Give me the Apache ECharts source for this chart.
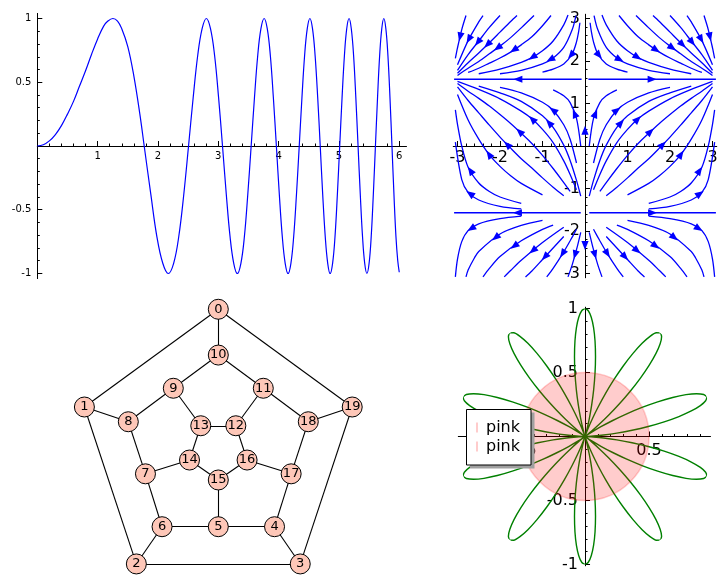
<!DOCTYPE html>
<html><head><meta charset="utf-8">
<script src="https://cdn.jsdelivr.net/npm/echarts@6/dist/echarts.min.js"></script>
<style>html,body{margin:0;padding:0;background:#fff}#c{width:727px;height:584px}</style>
</head><body><div id="c"></div>
<script>
// ---------- Panel 1: sin(x^2) ----------
var sinCurve = [[0,0],[0.1,0.01],[0.2,0.04],[0.3,0.09],[0.4,0.16],[0.5,0.25],[0.6,0.35],[0.7,0.47],[0.8,0.59],[0.9,0.72],[1.0,0.84],[1.1,0.94],[1.17,0.98],[1.253,1],[1.33,0.98],[1.4,0.92],[1.5,0.78],[1.6,0.55],[1.7,0.25],[1.772,0],[1.882,-0.38],[1.982,-0.71],[2.08,-0.92],[2.171,-1],[2.26,-0.92],[2.345,-0.71],[2.428,-0.38],[2.507,0],[2.584,0.38],[2.659,0.71],[2.732,0.92],[2.802,1],[2.871,0.92],[2.939,0.71],[3.005,0.38],[3.07,0],[3.133,-0.38],[3.195,-0.71],[3.256,-0.92],[3.316,-1],[3.375,-0.92],[3.433,-0.71],[3.489,-0.38],[3.545,0],[3.6,0.38],[3.654,0.71],[3.707,0.92],[3.76,1],[3.812,0.92],[3.863,0.71],[3.913,0.38],[3.963,0],[4.012,-0.38],[4.061,-0.71],[4.109,-0.92],[4.157,-1],[4.204,-0.92],[4.25,-0.71],[4.296,-0.38],[4.342,0],[4.387,0.38],[4.431,0.71],[4.475,0.92],[4.519,1],[4.562,0.92],[4.605,0.71],[4.648,0.38],[4.69,0],[4.731,-0.38],[4.773,-0.71],[4.814,-0.92],[4.854,-1],[4.895,-0.92],[4.935,-0.71],[4.974,-0.38],[5.013,0],[5.052,0.38],[5.091,0.71],[5.129,0.92],[5.168,1],[5.205,0.92],[5.243,0.71],[5.28,0.38],[5.317,0],[5.354,-0.38],[5.391,-0.71],[5.427,-0.92],[5.464,-1],[5.5,-0.92],[5.535,-0.71],[5.57,-0.38],[5.605,0],[5.64,0.38],[5.675,0.71],[5.71,0.92],[5.744,1],[5.778,0.92],[5.812,0.71],[5.846,0.38],[5.879,0],[5.912,-0.38],[5.945,-0.71],[5.975,-0.9],[6,-0.99]];
var p1XLabels = [1,2,3,4,5,6];
var p1YLabels = [-1,-0.5,0.5,1];
var p1XMinor = [0.2,0.4,0.6,0.8,1,1.2,1.4,1.6,1.8,2,2.2,2.4,2.6,2.8,3,3.2,3.4,3.6,3.8,4,4.2,4.4,4.6,4.8,5,5.2,5.4,5.6,5.8,6];
var p1YMinor = [-1,-0.9,-0.8,-0.7,-0.6,-0.5,-0.4,-0.3,-0.2,-0.1,0.1,0.2,0.3,0.4,0.5,0.6,0.7,0.8,0.9,1];

// ---------- Panel 2: streamlines of (sin x, cos y) ----------
var streamRight = [
 [[0.12,2.90],[0.15,2.69],[0.2,2.45],[0.3,2.17],[0.5,1.93],[0.75,1.81],[1.0,1.74]],
 [[0.213,3.07],[0.3,2.74],[0.5,2.32],[0.75,2.07],[1.0,1.93],[1.5,1.78],[2.0,1.70]],
 [[0.4,3.08],[0.5,2.85],[0.75,2.47],[1.0,2.24],[1.25,2.08],[1.5,1.97],[2.0,1.81],[2.5,1.70]],
 [[0.8,3.07],[1.0,2.83],[1.25,2.57],[1.5,2.38],[1.75,2.21],[2.0,2.07],[2.25,1.95],[2.5,1.83],[2.75,1.73]],
 [[1.2,3.07],[1.5,2.78],[1.75,2.55],[2.0,2.35],[2.25,2.17],[2.5,1.99],[2.75,1.83],[3.0,1.66]],
 [[1.6,3.07],[1.75,2.93],[2.0,2.68],[2.25,2.43],[2.5,2.19],[2.75,1.96],[3.0,1.71]],
 [[2.0,3.07],[2.25,2.79],[2.5,2.47],[2.75,2.15],[3.0,1.78]],
 [[2.4,3.07],[2.5,2.92],[2.75,2.48],[3.0,1.91]],
 [[2.8,3.07],[2.9,2.74],[3.0,2.31],[3.05,2.06]],
 [[0.08,1.571],[3.08,1.571]],
 [[0.1,0],[0.2,0.65],[0.35,1.02],[0.5,1.18],[0.75,1.32]],
 [[0.2,-0.40],[0.35,0.16],[0.5,0.50],[0.75,0.84],[1.0,1.03],[1.5,1.25],[2.0,1.38]],
 [[0.1,-1.18],[0.2,-0.81],[0.35,-0.34],[0.5,0.02],[0.75,0.44],[1.0,0.71],[1.5,1.05],[2.0,1.25],[2.5,1.41]],
 [[0.2,-1.03],[0.35,-0.67],[0.5,-0.35],[0.75,0.08],[1.0,0.39],[1.25,0.64],[1.5,0.82],[2.0,1.11],[2.5,1.33],[3.0,1.52]],
 [[0.35,-1.07],[0.5,-0.86],[0.75,-0.53],[1.0,-0.22],[1.25,0.06],[1.5,0.30],[1.75,0.53],[2.0,0.74],[2.25,0.94],[2.5,1.12],[2.75,1.29],[3.0,1.47]],
 [[0.5,-1.17],[0.75,-0.97],[1.0,-0.75],[1.25,-0.52],[1.5,-0.30],[1.75,-0.05],[2.0,0.21],[2.25,0.49],[2.5,0.78],[2.75,1.07],[3.0,1.39]],
 [[1.0,-1.15],[1.5,-0.88],[1.75,-0.70],[2.0,-0.48],[2.25,-0.21],[2.5,0.16],[2.75,0.61],[3.0,1.21]],
 [[1.5,-1.35],[2.0,-1.20],[2.25,-1.07],[2.5,-0.87],[2.75,-0.50],[2.9,0.0],[3.0,0.51],[3.05,0.85]],
 [[1.5,-1.48],[2.0,-1.42],[2.5,-1.27],[2.75,-1.09],[2.9,-0.79],[3.05,0.09]],
 [[0.1,-1.571],[3.08,-1.571]],
 [[0.1,-2.03],[0.2,-2.44],[0.3,-2.79],[0.4,-3.08]],
 [[0.2,-1.96],[0.35,-2.23],[0.5,-2.49],[0.75,-2.88],[0.9,-3.08]],
 [[0.5,-2.13],[0.75,-2.40],[1.0,-2.67],[1.25,-2.94],[1.4,-3.08]],
 [[0.5,-1.91],[1.0,-2.27],[1.5,-2.69],[1.75,-2.93],[1.9,-3.08]],
 [[0.75,-1.86],[1.0,-1.96],[1.5,-2.23],[2.0,-2.60],[2.25,-2.88],[2.4,-3.08]],
 [[1.0,-1.75],[1.5,-1.87],[2.0,-2.07],[2.5,-2.48],[2.6,-2.63],[2.75,-2.92],[2.8,-3.08]],
 [[1.5,-1.65],[2.0,-1.71],[2.5,-1.83],[2.75,-1.99],[2.9,-2.25],[3.0,-2.66],[3.05,-3.08]]
];
var streamLeft = [
 [[-0.12,2.90],[-0.15,2.69],[-0.2,2.45],[-0.3,2.17],[-0.5,1.93],[-0.75,1.81],[-1.0,1.74]],
 [[-0.213,3.07],[-0.3,2.74],[-0.5,2.32],[-0.75,2.07],[-1.0,1.93],[-1.5,1.78],[-2.0,1.70]],
 [[-0.4,3.08],[-0.5,2.85],[-0.75,2.47],[-1.0,2.24],[-1.25,2.08],[-1.5,1.97],[-2.0,1.81],[-2.5,1.70]],
 [[-0.8,3.07],[-1.0,2.83],[-1.25,2.57],[-1.5,2.38],[-1.75,2.21],[-2.0,2.07],[-2.25,1.95],[-2.5,1.83],[-2.75,1.73]],
 [[-1.2,3.07],[-1.5,2.78],[-1.75,2.55],[-2.0,2.35],[-2.25,2.17],[-2.5,1.99],[-2.75,1.83],[-3.0,1.66]],
 [[-1.6,3.07],[-1.75,2.93],[-2.0,2.68],[-2.25,2.43],[-2.5,2.19],[-2.75,1.96],[-3.0,1.71]],
 [[-2.0,3.07],[-2.25,2.79],[-2.5,2.47],[-2.75,2.15],[-3.0,1.78]],
 [[-2.4,3.07],[-2.5,2.92],[-2.75,2.48],[-3.0,1.91]],
 [[-2.8,3.07],[-2.9,2.74],[-3.0,2.31],[-3.05,2.06]],
 [[-0.08,1.571],[-3.08,1.571]],
 [[-0.1,0],[-0.2,0.65],[-0.35,1.02],[-0.5,1.18],[-0.75,1.32]],
 [[-0.2,-0.40],[-0.35,0.16],[-0.5,0.50],[-0.75,0.84],[-1.0,1.03],[-1.5,1.25],[-2.0,1.38]],
 [[-0.1,-1.18],[-0.2,-0.81],[-0.35,-0.34],[-0.5,0.02],[-0.75,0.44],[-1.0,0.71],[-1.5,1.05],[-2.0,1.25],[-2.5,1.41]],
 [[-0.2,-1.03],[-0.35,-0.67],[-0.5,-0.35],[-0.75,0.08],[-1.0,0.39],[-1.25,0.64],[-1.5,0.82],[-2.0,1.11],[-2.5,1.33],[-3.0,1.52]],
 [[-0.35,-1.07],[-0.5,-0.86],[-0.75,-0.53],[-1.0,-0.22],[-1.25,0.06],[-1.5,0.30],[-1.75,0.53],[-2.0,0.74],[-2.25,0.94],[-2.5,1.12],[-2.75,1.29],[-3.0,1.47]],
 [[-0.5,-1.17],[-0.75,-0.97],[-1.0,-0.75],[-1.25,-0.52],[-1.5,-0.30],[-1.75,-0.05],[-2.0,0.21],[-2.25,0.49],[-2.5,0.78],[-2.75,1.07],[-3.0,1.39]],
 [[-1.0,-1.15],[-1.5,-0.88],[-1.75,-0.70],[-2.0,-0.48],[-2.25,-0.21],[-2.5,0.16],[-2.75,0.61],[-3.0,1.21]],
 [[-1.5,-1.35],[-2.0,-1.20],[-2.25,-1.07],[-2.5,-0.87],[-2.75,-0.50],[-2.9,0.0],[-3.0,0.51],[-3.05,0.85]],
 [[-1.5,-1.48],[-2.0,-1.42],[-2.5,-1.27],[-2.75,-1.09],[-2.9,-0.79],[-3.05,0.09]],
 [[-0.1,-1.571],[-3.08,-1.571]],
 [[-0.1,-2.03],[-0.2,-2.44],[-0.3,-2.79],[-0.4,-3.08]],
 [[-0.2,-1.96],[-0.35,-2.23],[-0.5,-2.49],[-0.75,-2.88],[-0.9,-3.08]],
 [[-0.5,-2.13],[-0.75,-2.40],[-1.0,-2.67],[-1.25,-2.94],[-1.4,-3.08]],
 [[-0.5,-1.91],[-1.0,-2.27],[-1.5,-2.69],[-1.75,-2.93],[-1.9,-3.08]],
 [[-0.75,-1.86],[-1.0,-1.96],[-1.5,-2.23],[-2.0,-2.60],[-2.25,-2.88],[-2.4,-3.08]],
 [[-1.0,-1.75],[-1.5,-1.87],[-2.0,-2.07],[-2.5,-2.48],[-2.6,-2.63],[-2.75,-2.92],[-2.8,-3.08]],
 [[-1.5,-1.65],[-2.0,-1.71],[-2.5,-1.83],[-2.75,-1.99],[-2.9,-2.25],[-3.0,-2.66],[-3.05,-3.08]]
];
var axisArrows = [[0,0.37,0,1],[0,-2.34,0,-1]];
var p2Labels = [-3,-2,-1,1,2,3];
var p2Minor = [-3,-2.8,-2.6,-2.4,-2.2,-2,-1.8,-1.6,-1.4,-1.2,-1,-0.8,-0.6,-0.4,-0.2,0.2,0.4,0.6,0.8,1,1.2,1.4,1.6,1.8,2,2.2,2.4,2.6,2.8,3];

// ---------- Panel 3: dodecahedral graph ----------
var nodeNames = ['0','1','2','3','4','5','6','7','8','9','10','11','12','13','14','15','16','17','18','19'];
var nodeX = [0,-1.0,-0.612,0.612,0.42,0,-0.42,-0.544,-0.672,-0.336,0,0.336,0.131,-0.131,-0.215,0,0.215,0.544,0.672,1.0];
var nodeY = [0.954,0.224,-0.948,-0.948,-0.67,-0.67,-0.67,-0.275,0.114,0.364,0.612,0.364,0.084,0.084,-0.172,-0.321,-0.172,-0.275,0.114,0.224];
var edges = [[0,1],[0,10],[0,19],[1,2],[1,8],[2,3],[2,6],[3,4],[3,19],[4,5],[4,17],[5,6],[5,15],[6,7],[7,8],[7,14],[8,9],[9,10],[9,13],[10,11],[11,12],[11,18],[12,13],[12,16],[13,14],[14,15],[15,16],[16,17],[17,18],[18,19]];

// ---------- Panel 4: polar rose + circle ----------
var roseTheta = [
 0,1.5,3,4.5,6,7.5,9,10.5,12,13.5,15,16.5,18,19.5,21,22.5,24,25.5,27,28.5,30,31.5,33,34.5,
 36,37.5,39,40.5,42,43.5,45,46.5,48,49.5,51,52.5,54,55.5,57,58.5,60,61.5,63,64.5,66,67.5,69,70.5,
 72,73.5,75,76.5,78,79.5,81,82.5,84,85.5,87,88.5,90,91.5,93,94.5,96,97.5,99,100.5,102,103.5,105,106.5,
 108,109.5,111,112.5,114,115.5,117,118.5,120,121.5,123,124.5,126,127.5,129,130.5,132,133.5,135,136.5,138,139.5,141,142.5,
 144,145.5,147,148.5,150,151.5,153,154.5,156,157.5,159,160.5,162,163.5,165,166.5,168,169.5,171,172.5,174,175.5,177,178.5,
 180,181.5,183,184.5,186,187.5,189,190.5,192,193.5,195,196.5,198,199.5,201,202.5,204,205.5,207,208.5,210,211.5,213,214.5,
 216,217.5,219,220.5,222,223.5,225,226.5,228,229.5,231,232.5,234,235.5,237,238.5,240,241.5,243,244.5,246,247.5,249,250.5,
 252,253.5,255,256.5,258,259.5,261,262.5,264,265.5,267,268.5,270,271.5,273,274.5,276,277.5,279,280.5,282,283.5,285,286.5,
 288,289.5,291,292.5,294,295.5,297,298.5,300,301.5,303,304.5,306,307.5,309,310.5,312,313.5,315,316.5,318,319.5,321,322.5,
 324,325.5,327,328.5,330,331.5,333,334.5,336,337.5,339,340.5,342,343.5,345,346.5,348,349.5,351,352.5,354,355.5,357,358.5,
 360];
var roseR = [
 0,0.017,0.067,0.146,0.25,0.371,0.5,0.629,0.75,0.854,0.933,0.983,1,0.983,0.933,0.854,0.75,0.629,0.5,0.371,0.25,0.146,0.067,0.017,
 0,0.017,0.067,0.146,0.25,0.371,0.5,0.629,0.75,0.854,0.933,0.983,1,0.983,0.933,0.854,0.75,0.629,0.5,0.371,0.25,0.146,0.067,0.017,
 0,0.017,0.067,0.146,0.25,0.371,0.5,0.629,0.75,0.854,0.933,0.983,1,0.983,0.933,0.854,0.75,0.629,0.5,0.371,0.25,0.146,0.067,0.017,
 0,0.017,0.067,0.146,0.25,0.371,0.5,0.629,0.75,0.854,0.933,0.983,1,0.983,0.933,0.854,0.75,0.629,0.5,0.371,0.25,0.146,0.067,0.017,
 0,0.017,0.067,0.146,0.25,0.371,0.5,0.629,0.75,0.854,0.933,0.983,1,0.983,0.933,0.854,0.75,0.629,0.5,0.371,0.25,0.146,0.067,0.017,
 0,0.017,0.067,0.146,0.25,0.371,0.5,0.629,0.75,0.854,0.933,0.983,1,0.983,0.933,0.854,0.75,0.629,0.5,0.371,0.25,0.146,0.067,0.017,
 0,0.017,0.067,0.146,0.25,0.371,0.5,0.629,0.75,0.854,0.933,0.983,1,0.983,0.933,0.854,0.75,0.629,0.5,0.371,0.25,0.146,0.067,0.017,
 0,0.017,0.067,0.146,0.25,0.371,0.5,0.629,0.75,0.854,0.933,0.983,1,0.983,0.933,0.854,0.75,0.629,0.5,0.371,0.25,0.146,0.067,0.017,
 0,0.017,0.067,0.146,0.25,0.371,0.5,0.629,0.75,0.854,0.933,0.983,1,0.983,0.933,0.854,0.75,0.629,0.5,0.371,0.25,0.146,0.067,0.017,
 0,0.017,0.067,0.146,0.25,0.371,0.5,0.629,0.75,0.854,0.933,0.983,1,0.983,0.933,0.854,0.75,0.629,0.5,0.371,0.25,0.146,0.067,0.017,
 0];
var circleCenter = [0,0];
var circleRadius = 0.5;
var legendLabels = ['pink','pink'];
var p4XLabels = [-0.5,0.5];
var p4YLabels = [-1,-0.5,0.5,1];
var p4XMinor = [-0.9,-0.8,-0.7,-0.6,-0.5,-0.4,-0.3,-0.2,-0.1,0.1,0.2,0.3,0.4,0.5,0.6,0.7,0.8,0.9];
var p4YMinor = [-1,-0.9,-0.8,-0.7,-0.6,-0.5,-0.4,-0.3,-0.2,-0.1,0.1,0.2,0.3,0.4,0.5,0.6,0.7,0.8,0.9,1];

// ---------- layout ----------
var FONT = 'DejaVu Sans';
var grids = [
  {left:37.3, top:13.4, width:369.2, height:265.2},
  {left:453.25, top:14.25, width:263.5, height:263.5},
  {left:77.7, top:296.4, width:281.2, height:281.2},
  {left:458.3, top:307.2, width:252.2, height:258.6}
];
var ranges = [
  {x:[0,6.12], y:[-1.04,1.04]},
  {x:[-3.1,3.1], y:[-3.1,3.1]},
  {x:[-1.05,1.05], y:[-1.05,1.05]},
  {x:[-0.99,0.98], y:[-1.01,1.01]}
];
// axis offsets so the axes cross at the origin (x axis at y=0, y axis at x=0)
function xOff(g){ var r = ranges[g].y; return -(0 - r[0]) / (r[1] - r[0]) * grids[g].height; }
function yOff(g){ var r = ranges[g].x; return -(0 - r[0]) / (r[1] - r[0]) * grids[g].width; }

function mainAxis(dim, g, labels, fs, margin) {
  var r = ranges[g][dim];
  return {
    type:'value', gridIndex:g, min:r[0], max:r[1],
    position: dim === 'x' ? 'bottom' : 'left',
    offset: dim === 'x' ? xOff(g) : yOff(g),
    axisLine:{show:true, onZero:false, lineStyle:{color:'#000', width:1}},
    axisTick:{show:true, inside:true, length:5, customValues:labels, lineStyle:{color:'#000', width:1}},
    axisLabel:{show:true, customValues:labels, fontSize:fs, color:'#000', margin:margin, fontFamily:FONT},
    splitLine:{show:false}
  };
}
function minorAxis(dim, g, ticks) {
  var r = ranges[g][dim];
  return {
    type:'value', gridIndex:g, min:r[0], max:r[1],
    position: dim === 'x' ? 'bottom' : 'left',
    offset: dim === 'x' ? xOff(g) : yOff(g),
    axisLine:{show:false, onZero:false},
    axisTick:{show:true, inside:true, length:2.5, customValues:ticks, lineStyle:{color:'#000', width:1}},
    axisLabel:{show:false}, splitLine:{show:false}
  };
}
function hiddenAxis(dim, g) {
  var r = ranges[g][dim];
  return {type:'value', gridIndex:g, min:r[0], max:r[1], show:false};
}

var xAxes = [
  mainAxis('x', 0, p1XLabels, 10, 5),
  minorAxis('x', 0, p1XMinor),
  mainAxis('x', 1, p2Labels, 16, 4),
  minorAxis('x', 1, p2Minor),
  hiddenAxis('x', 2),
  mainAxis('x', 3, p4XLabels, 16, 6),
  minorAxis('x', 3, p4XMinor)
];
var yAxes = [
  mainAxis('y', 0, p1YLabels, 10, 6),
  minorAxis('y', 0, p1YMinor),
  mainAxis('y', 1, p2Labels, 16, 5),
  minorAxis('y', 1, p2Minor),
  hiddenAxis('y', 2),
  mainAxis('y', 3, p4YLabels, 16, 7),
  minorAxis('y', 3, p4YMinor)
];

var series = [];
series.push({
  type:'line', xAxisIndex:0, yAxisIndex:0, data:sinCurve, smooth:0.4,
  showSymbol:false, symbol:'none', lineStyle:{color:'#0000ff', width:1.2}, silent:true, z:3
});

var allStreams = streamRight.concat(streamLeft);
allStreams.forEach(function(line){
  series.push({
    type:'line', xAxisIndex:2, yAxisIndex:2, data:line, smooth:0.3,
    showSymbol:false, symbol:'none', lineStyle:{color:'#0000ff', width:1.3}, silent:true, z:3
  });
});

function midArrow(line) {
  var L = [0];
  for (var i = 1; i < line.length; i++) {
    L.push(L[i-1] + Math.hypot(line[i][0]-line[i-1][0], line[i][1]-line[i-1][1]));
  }
  var half = L[L.length-1] / 2;
  for (var j = 1; j < line.length; j++) {
    if (L[j] >= half) {
      var t = (half - L[j-1]) / (L[j] - L[j-1]);
      var dx = line[j][0]-line[j-1][0], dy = line[j][1]-line[j-1][1];
      return [line[j-1][0] + t*dx, line[j-1][1] + t*dy, dx, dy];
    }
  }
}
var arrowData = allStreams.map(midArrow).concat(axisArrows);
series.push({
  type:'custom', xAxisIndex:2, yAxisIndex:2, data:arrowData, silent:true, z:4,
  encode:{x:0, y:1},
  renderItem:function(params, api){
    var x = api.value(0), y = api.value(1), dx = api.value(2), dy = api.value(3);
    var p = api.coord([x, y]);
    var q = api.coord([x + dx*0.01, y + dy*0.01]);
    var a = Math.atan2(q[1]-p[1], q[0]-p[0]);
    var Ln = 9, W = 3.6, c = Math.cos(a), s = Math.sin(a);
    var tip = [p[0] + c*Ln/2, p[1] + s*Ln/2];
    var base = [p[0] - c*Ln/2, p[1] - s*Ln/2];
    return {type:'polygon', shape:{points:[tip, [base[0]-s*W, base[1]+c*W], [base[0]+s*W, base[1]-c*W]]},
            style:{fill:'#0000ff'}};
  }
});

series.push({
  type:'graph', coordinateSystem:'cartesian2d', xAxisIndex:4, yAxisIndex:4,
  symbol:'circle', symbolSize:20, silent:true,
  itemStyle:{color:'#fec7b8', borderColor:'#000', borderWidth:1},
  label:{show:true, position:'inside', color:'#000', fontSize:13, fontFamily:FONT},
  lineStyle:{color:'#000', width:1.1, opacity:1, curveness:0},
  emphasis:{disabled:true},
  data:nodeNames.map(function(n, i){ return {name:n, value:[nodeX[i], nodeY[i]]}; }),
  links:edges.map(function(e){ return {source:nodeNames[e[0]], target:nodeNames[e[1]]}; })
});

series.push({
  type:'line', coordinateSystem:'polar', polarIndex:0,
  data:roseR.map(function(r, i){ return [r, roseTheta[i]]; }),
  smooth:0.2, showSymbol:false, symbol:'none', silent:true,
  lineStyle:{color:'#008000', width:1.4}, z:3
});

series.push({
  type:'custom', xAxisIndex:5, yAxisIndex:5, silent:true, z:10,
  data:[[circleCenter[0], circleCenter[1], circleRadius]],
  encode:{x:0, y:1},
  renderItem:function(params, api){
    var c = api.coord([api.value(0), api.value(1)]);
    var r = api.size([api.value(2), 0])[0];
    return {type:'circle', shape:{cx:c[0], cy:c[1], r:r},
            style:{fill:'rgba(255,0,0,0.2)', stroke:'rgba(255,0,0,0.2)', lineWidth:1.5}};
  }
});

var legendEls = [
  {type:'rect', z:100, shape:{x:470, y:412.5, width:64.5, height:56}, style:{fill:'#a0a0a0'}},
  {type:'rect', z:101, shape:{x:466.5, y:409.5, width:64.5, height:55.5}, style:{fill:'#fff', stroke:'#000', lineWidth:1}}
];
legendLabels.forEach(function(t, i){
  var cy = 427.5 + i*19;
  legendEls.push({type:'rect', z:102, shape:{x:476, y:cy-5, width:2, height:10}, style:{fill:'rgba(255,0,0,0.2)'}});
  legendEls.push({type:'text', z:102, x:486, y:cy, style:{text:t, font:'16px "DejaVu Sans"', fill:'#000', verticalAlign:'middle'}});
});

var option = {
  animation:false,
  backgroundColor:'#fff',
  textStyle:{fontFamily:FONT},
  grid:grids.map(function(g){ return Object.assign({outerBoundsMode:'none', containLabel:false}, g); }),
  xAxis:xAxes,
  yAxis:yAxes,
  polar:{center:[585, 436.5], radius:128},
  angleAxis:{type:'value', min:0, max:360, startAngle:0, clockwise:false,
    axisLine:{show:false}, axisTick:{show:false}, axisLabel:{show:false}, splitLine:{show:false}},
  radiusAxis:{type:'value', min:0, max:1,
    axisLine:{show:false}, axisTick:{show:false}, axisLabel:{show:false}, splitLine:{show:false}},
  series:series,
  graphic:{elements:legendEls}
};
var chart = echarts.init(document.getElementById('c'), null, {renderer:'canvas'});
chart.setOption(option);
</script>
</body></html>
